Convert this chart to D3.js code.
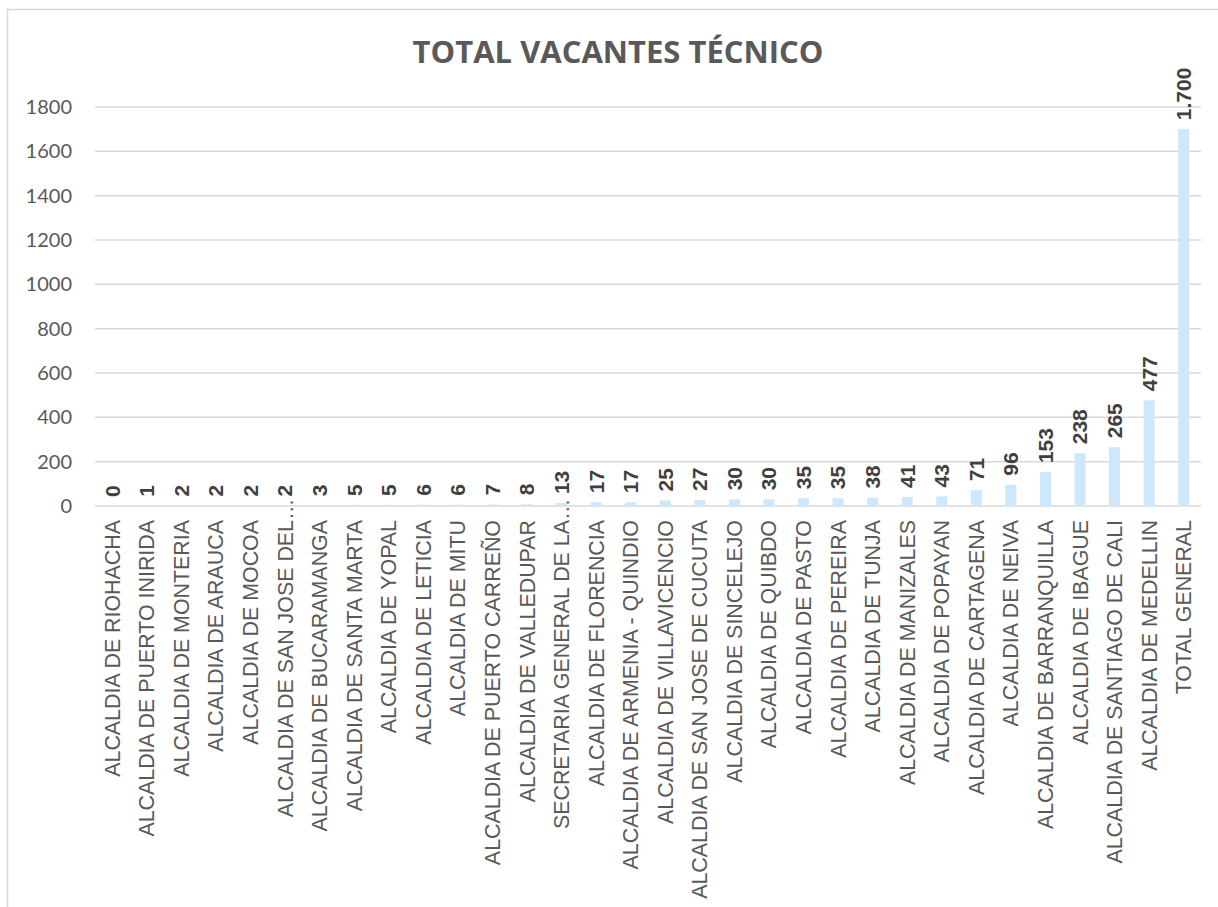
<!DOCTYPE html>
<html>
<head>
<meta charset="utf-8">
<script src="https://cdn.jsdelivr.net/npm/d3@7"></script>
<style>
  body { margin: 0; background: #fff; }
</style>
</head>
<body>
<div id="chart"></div>
<script>
const categories = [
  "ALCALDIA DE RIOHACHA", "ALCALDIA DE PUERTO INIRIDA", "ALCALDIA DE MONTERIA",
  "ALCALDIA DE ARAUCA", "ALCALDIA DE MOCOA", "ALCALDIA DE SAN JOSE DEL",
  "ALCALDIA DE BUCARAMANGA", "ALCALDIA DE SANTA MARTA", "ALCALDIA DE YOPAL",
  "ALCALDIA DE LETICIA", "ALCALDIA DE MITU", "ALCALDIA DE PUERTO CARREÑO",
  "ALCALDIA DE VALLEDUPAR", "SECRETARIA GENERAL DE LA", "ALCALDIA DE FLORENCIA",
  "ALCALDIA DE ARMENIA - QUINDIO", "ALCALDIA DE VILLAVICENCIO", "ALCALDIA DE SAN JOSE DE CUCUTA",
  "ALCALDIA DE SINCELEJO", "ALCALDIA DE QUIBDO", "ALCALDIA DE PASTO",
  "ALCALDIA DE PEREIRA", "ALCALDIA DE TUNJA", "ALCALDIA DE MANIZALES",
  "ALCALDIA DE POPAYAN", "ALCALDIA DE CARTAGENA", "ALCALDIA DE NEIVA",
  "ALCALDIA DE BARRANQUILLA", "ALCALDIA DE IBAGUE", "ALCALDIA DE SANTIAGO DE CALI",
  "ALCALDIA DE MEDELLIN", "TOTAL GENERAL"
]
const values = [0, 1, 2, 2, 2, 2, 3, 5, 5, 6, 6, 7, 8, 13, 17, 17, 25, 27, 30, 30,
  35, 35, 38, 41, 43, 71, 96, 153, 238, 265, 477, 1700]
// labels cut short by the chart
const truncated = ["ALCALDIA DE SAN JOSE DEL", "SECRETARIA GENERAL DE LA"]
const yTicks = [0, 200, 400, 600, 800, 1000, 1200, 1400, 1600, 1800]

const data = categories.map((c, i) => ({cat: c, value: values[i]}))

const width = 1218
const height = 907
const margin = {top: 107, right: 17, bottom: 401, left: 95}

const svg = d3.select("#chart")
  .append("svg")
  .attr("width", width)
  .attr("height", height)

// outer frame
svg.append("rect")
  .attr("x", 7.5)
  .attr("y", 9.5)
  .attr("width", width + 20)
  .attr("height", height + 20)
  .attr("fill", "none")
  .attr("stroke", "#d9d9d9")
  .attr("stroke-width", 1.5)

// scale X
const x = d3.scaleBand()
  .domain(categories)
  .range([margin.left, width - margin.right])
  .paddingInner(0.68)
  .paddingOuter(0.34)

// scale Y
const y = d3.scaleLinear()
  .domain([0, 1800])
  .range([height - margin.bottom, margin.top])

// gridlines
svg.append("g")
  .selectAll("line")
  .data(yTicks)
  .join("line")
  .attr("x1", margin.left)
  .attr("x2", width - margin.right)
  .attr("y1", d => y(d))
  .attr("y2", d => y(d))
  .attr("stroke", "#d9d9d9")
  .attr("stroke-width", 1.5)

// Y axis
const yAxis = svg.append("g")
  .attr("transform", `translate(${margin.left},0)`)
  .call(d3.axisLeft(y).tickValues(yTicks).tickFormat(d3.format("d")).tickSize(0).tickPadding(23))
yAxis.select(".domain").remove()
yAxis.selectAll("text")
  .attr("font-family", "Lato, 'Open Sans', sans-serif")
  .attr("font-size", "20px")
  .attr("fill", "#595959")

// bars
svg.selectAll("rect.bar")
  .data(data)
  .join("rect")
  .attr("class", "bar")
  .attr("x", d => x(d.cat))
  .attr("width", x.bandwidth())
  .attr("y", d => y(d.value))
  .attr("height", d => y(0) - y(d.value))
  .attr("fill", "#cde8fc")

// value labels (dot as thousands separator)
const fmt = v => d3.format(",")(v).replace(/,/g, ".")
svg.selectAll("text.val")
  .data(data)
  .join("text")
  .attr("class", "val")
  .attr("transform", d => `translate(${x(d.cat) + x.bandwidth() / 2},${y(d.value) - 9}) rotate(-90)`)
  .attr("dy", "0.35em")
  .attr("font-family", "'Liberation Sans', Arial, sans-serif")
  .attr("font-weight", "bold")
  .attr("font-size", "21px")
  .attr("fill", "#404040")
  .text(d => fmt(d.value))

// X axis labels
const labelTop = y(0) + 14
const xl = svg.append("g")
xl.selectAll("text")
  .data(data)
  .join("text")
  .attr("transform", d => `translate(${x(d.cat) + x.bandwidth() / 2},${labelTop}) rotate(-90)`)
  .attr("dy", "0.35em")
  .attr("text-anchor", "end")
  .attr("font-family", "'Liberation Sans', Arial, sans-serif")
  .attr("font-size", "21.4px")
  .attr("fill", "#595959")
  .text(d => d.cat)

// ellipsis on cut labels
xl.selectAll("text.ell")
  .data(data.filter(d => truncated.includes(d.cat)))
  .join("text")
  .attr("class", "ell")
  .attr("transform", d => `translate(${x(d.cat) + x.bandwidth() / 2},${labelTop}) rotate(-90)`)
  .attr("dy", "0.35em")
  .attr("font-family", "'Liberation Sans', Arial, sans-serif")
  .attr("font-size", "21.4px")
  .attr("fill", "#595959")
  .text("…")

// title
svg.append("text")
  .attr("x", 618)
  .attr("y", 63)
  .attr("text-anchor", "middle")
  .attr("font-family", "'Open Sans', sans-serif")
  .attr("font-weight", "bold")
  .attr("font-size", "31px")
  .attr("fill", "#595959")
  .text("TOTAL VACANTES TÉCNICO")
</script>
</body>
</html>
